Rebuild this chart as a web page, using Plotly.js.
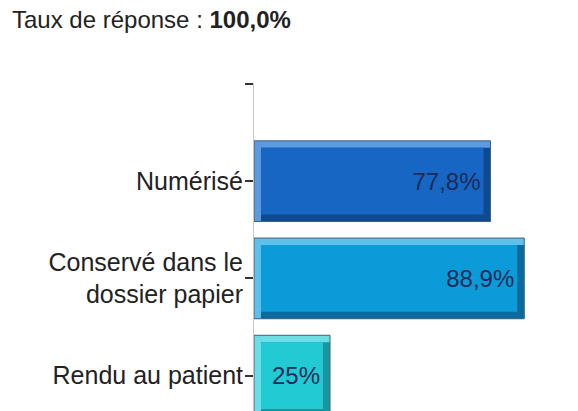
<!DOCTYPE html>
<html>
<head>
<meta charset="utf-8">
<script src="https://cdn.plot.ly/plotly-3.0.1.min.js"></script>
<style>
  html, body { margin: 0; padding: 0; background: #ffffff; overflow: hidden; width: 578px; height: 411px; }
  #chart { width: 578px; height: 424px; margin-top: -13px; }
</style>
</head>
<body>
<div id="chart"></div>
<script>
// ---- data ----
const categories = ["Numérisé", "Conservé dans le<br>dossier papier", "Rendu au patient"];
const values = [77.8, 88.9, 25];
const valueLabels = ["77,8%", "88,9%", "25%"];
const tickLabels = [""].concat(categories);
const titleText = "Taux de réponse : <b>100,0%</b>";

// ---- styles ----
const faceColors  = ["#1766c4", "#0b9bd8", "#22cad4"];
const lightColors = ["#5c9be0", "#5fc0ea", "#6cdde4"];
const darkColors  = ["#0f4a8f", "#0a6b9c", "#17969d"];
const outline = "#40607f";

const yPos = categories.map((c, i) => i + 1);
const barW = 0.83;
const dX = 2.3;   // bevel thickness along value axis
const dY = 0.072; // bevel thickness along category axis

const font = "Arial, 'Liberation Sans', sans-serif";

const layerLight = {
  type: "bar", orientation: "h", y: yPos, x: values, base: 0,
  width: barW, offset: -barW / 2,
  marker: { color: lightColors, line: { width: 0 } },
  hoverinfo: "skip", showlegend: false
};
const layerDark = {
  type: "bar", orientation: "h", y: yPos,
  x: values.map(v => v - dX), base: dX,
  width: barW - dY, offset: -barW / 2 + dY,
  marker: { color: darkColors, line: { width: 0 } },
  hoverinfo: "skip", showlegend: false
};
const layerFace = {
  type: "bar", orientation: "h", y: yPos,
  x: values.map(v => v - 2 * dX), base: dX,
  width: barW - 2 * dY, offset: -barW / 2 + dY,
  marker: { color: faceColors, line: { width: 0 } },
  text: valueLabels, textposition: "inside", insidetextanchor: "end",
  constraintext: "none",
  insidetextfont: { family: font, size: 24, color: "#1b2c58" },
  hoverinfo: "skip", showlegend: false
};
const layerOutline = {
  type: "bar", orientation: "h", y: yPos, x: values, base: 0,
  width: barW, offset: -barW / 2,
  marker: { color: "rgba(0,0,0,0)", line: { color: outline, width: 1 } },
  hoverinfo: "skip", showlegend: false
};

const layout = {
  width: 578, height: 424,
  margin: { l: 254, r: 20, t: 96, b: 0, pad: 0 },
  paper_bgcolor: "#ffffff", plot_bgcolor: "#ffffff",
  barmode: "overlay",
  showlegend: false,
  font: { family: font, size: 24, color: "#222222" },
  title: {
    text: titleText,
    font: { family: font, size: 24, color: "#222222" },
    xref: "container", x: 12 / 578, xanchor: "left",
    yref: "container", y: 1 - 24 / 424, yanchor: "top"
  },
  xaxis: {
    range: [0, 100], visible: false, showgrid: false, zeroline: false, fixedrange: true
  },
  yaxis: {
    type: "linear",
    range: [3.364, -0.01],
    tickmode: "array",
    tickvals: tickLabels.map((t, i) => i),
    ticktext: tickLabels,
    ticks: "outside", ticklen: 8, tickwidth: 2, tickcolor: "#333333",
    ticklabelstandoff: -3,
    showline: true, linecolor: "#c8c8c8", linewidth: 1,
    showgrid: false, zeroline: false,
    tickfont: { family: font, size: 25, color: "#222222" },
    fixedrange: true
  }
};

Plotly.newPlot("chart", [layerLight, layerDark, layerFace, layerOutline], layout,
  { staticPlot: true, displayModeBar: false });
</script>
</body>
</html>
